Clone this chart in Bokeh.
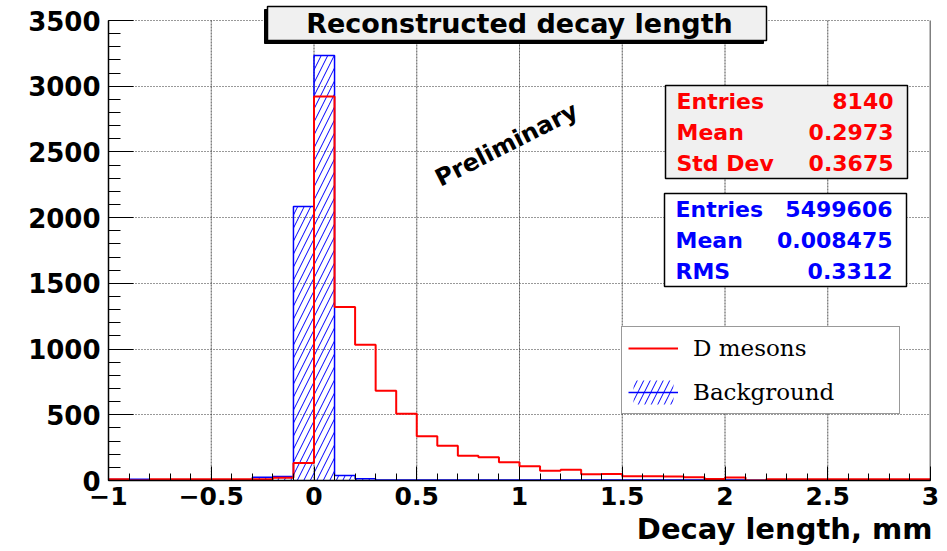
import numpy as np
from bokeh.plotting import figure
from bokeh.models import (Range1d, FixedTicker, BoxAnnotation, Label, Legend,
                          LegendItem, Title)
from bokeh.embed import file_html
from bokeh.resources import INLINE

# ---------------- data ----------------
bin_lo = -1.0
bin_hi = 3.0
n_bins = 40

# D mesons (red), counts per 0.1 mm bin from -1 to 3
signal_counts = [10, 0, 10, 10, 10, 10, 10, 10, 20, 134,
                 2922, 1320, 1032, 682, 507, 337, 264, 188, 177, 139,
                 109, 74, 81, 48, 50, 33, 33, 30, 25, 12,
                 23, 0, 10, 10, 10, 10, 10, 10, 10, 10]
# Background (blue, hatched), scaled counts
background_counts = [8, 10, 6, 6, 6, 6, 6, 25, 30, 2085,
                     3234, 38, 13, 4, 3, 3, 3, 3, 3, 3,
                     3, 3, 3, 3, 3, 3, 3, 3, 3, 3,
                     3, 2, 3, 3, 3, 3, 3, 3, 3, 3]

xtick_values = [-1, -0.5, 0, 0.5, 1, 1.5, 2, 2.5, 3]
xtick_labels = ["\u22121", "\u22120.5", "0", "0.5", "1", "1.5", "2", "2.5", "3"]
ytick_values = [0, 500, 1000, 1500, 2000, 2500, 3000, 3500]

title_text = "Reconstructed decay length"
xaxis_title = "Decay length, mm"
watermark = "Preliminary"
legend_labels = ["D mesons", "Background"]

sig_stat_names = ["Entries", "Mean", "Std Dev"]
sig_stat_values = ["8140", "0.2973", "0.3675"]
bkg_stat_names = ["Entries", "Mean", "RMS"]
bkg_stat_values = ["5499606", "0.008475", "0.3312"]

RED = "#ff0000"
BLUE = "#0000ff"
SANS = "DejaVu Sans"
SERIF = "DejaVu Serif"

# ---------------- geometry (page pixels) ----------------
XMIN, XMAX, YMIN, YMAX = -1.0, 3.0, 0.0, 3500.0
FL, FR = 108.0, 930.0      # x = -1 and x = 3
PY_TOP, PY_ZERO = 20.0, 480.0   # y = 3500 and y = 0
FRAME_TOP = 0.0            # frame extends above 3500 so that the title box fits inside


def X(px):
    return XMIN + (px - FL) / (FR - FL) * (XMAX - XMIN)


def Y(py):
    return YMAX - (py - PY_TOP) / (PY_ZERO - PY_TOP) * (YMAX - YMIN)


W, H = 947, 551
p = figure(width=W, height=H,
           x_range=Range1d(XMIN, XMAX), y_range=Range1d(YMIN, Y(FRAME_TOP)),
           output_backend="svg", toolbar_location=None,
           min_border_left=int(FL), min_border_right=int(W - FR),
           min_border_top=int(FRAME_TOP), min_border_bottom=int(H - PY_ZERO))
p.outline_line_color = None
p.background_fill_color = "white"
p.border_fill_color = "white"

edges = np.linspace(bin_lo, bin_hi, n_bins + 1)

blue_quad = p.quad(left=edges[:-1], right=edges[1:], bottom=0, top=background_counts,
                   fill_color=None, line_color=None,
                   hatch_pattern="/", hatch_color=BLUE, hatch_scale=13, hatch_weight=1)
blue_step = p.step(x=edges, y=background_counts + [background_counts[-1]], mode="after",
                   line_color=BLUE, line_width=1.5)
red_step = p.step(x=edges, y=signal_counts + [signal_counts[-1]], mode="after",
                  line_color=RED, line_width=2)

# ---------------- axes ----------------
xa = p.xaxis[0]
ya = p.yaxis[0]
xa.ticker = FixedTicker(ticks=xtick_values,
                        minor_ticks=[round(v, 2) for v in np.linspace(-1, 3, 41)])
xa.major_label_overrides = dict(zip(xtick_values, xtick_labels))
ya.ticker = FixedTicker(ticks=ytick_values, minor_ticks=list(range(0, 3501, 100)))
ya.major_label_overrides = {v: str(v) for v in ytick_values}
ya.bounds = (YMIN, YMAX)

for ax in (xa, ya):
    ax.axis_line_color = "black"
    ax.axis_line_width = 1.5
    ax.major_tick_line_color = "black"
    ax.minor_tick_line_color = "black"
    ax.major_tick_out = 0
    ax.minor_tick_out = 0
    ax.major_label_text_font = SANS
    ax.major_label_text_font_style = "bold"
    ax.major_label_text_color = "black"

xa.major_label_text_font_size = "25px"
ya.major_label_text_font_size = "26px"
xa.major_tick_in = 14
xa.minor_tick_in = 7
xa.major_label_standoff = 6
ya.major_tick_in = 25
ya.minor_tick_in = 12
ya.major_label_standoff = 8

# horizontal dotted grid
g = p.ygrid[0]
g.grid_line_color = "#333333"
g.grid_line_dash = "1 2"
g.grid_line_width = 1
# vertical dotted grid limited to the histogram range (0..3500)
p.xgrid[0].visible = False
for v in xtick_values[1:-1]:
    p.add_layout(BoxAnnotation(left=v, right=v, bottom=YMIN, top=YMAX, level="underlay",
                               fill_alpha=0, line_color="#333333", line_alpha=1,
                               line_width=1, line_dash="1 2"))
# right frame edge
p.add_layout(BoxAnnotation(left=XMAX, right=XMAX, bottom=YMIN, top=YMAX,
                           fill_alpha=0, line_color="black", line_alpha=1, line_width=1.5))

# ---------------- title box ----------------
p.add_layout(BoxAnnotation(left=X(264), right=X(763), top=Y(9), bottom=Y(43),
                           fill_color="black", fill_alpha=1, line_color="black", line_alpha=1))
p.add_layout(BoxAnnotation(left=X(267), right=X(766), top=Y(6), bottom=Y(40),
                           fill_color="#f0f0f0", fill_alpha=1, line_color="black",
                           line_alpha=1, line_width=1.5))
p.add_layout(Label(x=X(519), y=Y(23), text=title_text, text_align="center",
                   text_baseline="middle", text_font=SANS, text_font_style="bold",
                   text_font_size="27px", text_color="black"))

# ---------------- stat boxes ----------------
def stat_box(top_px, bottom_px, left_px, right_px, fill, names, values, color):
    p.add_layout(BoxAnnotation(left=X(left_px), right=X(right_px), top=Y(top_px),
                               bottom=Y(bottom_px), fill_color=fill, fill_alpha=1,
                               line_color="black", line_alpha=1, line_width=1.5))
    h = (bottom_px - top_px) / len(names)
    for i, (n, v) in enumerate(zip(names, values)):
        yc = top_px + h * (i + 0.5)
        p.add_layout(Label(x=X(left_px + 11), y=Y(yc), text=n, text_align="left",
                           text_baseline="middle", text_font=SANS, text_font_style="bold",
                           text_font_size="22px", text_color=color))
        p.add_layout(Label(x=X(right_px - 14), y=Y(yc), text=v, text_align="right",
                           text_baseline="middle", text_font=SANS, text_font_style="bold",
                           text_font_size="22px", text_color=color))


stat_box(85, 178, 665, 907, "#f0f0f0", sig_stat_names, sig_stat_values, RED)
stat_box(193, 286, 664, 906, "white", bkg_stat_names, bkg_stat_values, BLUE)

# ---------------- watermark ----------------
p.add_layout(Label(x=X(506), y=Y(144), text=watermark, angle=np.deg2rad(27),
                   text_align="center", text_baseline="middle", text_font=SANS,
                   text_font_style="bold", text_font_size="24px", text_color="black"))

# ---------------- x axis title (right aligned, below the axis) ----------------
p.add_layout(Title(text=xaxis_title, align="right", offset=-2, standoff=4,
                   text_font=SANS, text_font_style="bold", text_font_size="29px",
                   text_color="black"), "below")

# ---------------- legend ----------------
legend = Legend(items=[LegendItem(label=legend_labels[0], renderers=[red_step]),
                       LegendItem(label=legend_labels[1], renderers=[blue_quad, blue_step])],
                location=(int(621 - FL), int(PY_ZERO - 414)), orientation="vertical",
                glyph_width=50, glyph_height=30, label_width=200, label_height=30,
                label_standoff=15, padding=6, spacing=14, margin=0,
                label_text_font=SERIF, label_text_font_size="23px",
                label_text_color="black",
                border_line_color="#333333", border_line_width=1.5,
                background_fill_color="white", background_fill_alpha=1)
p.add_layout(legend)

open("out.html", "w").write(file_html(p, INLINE))
